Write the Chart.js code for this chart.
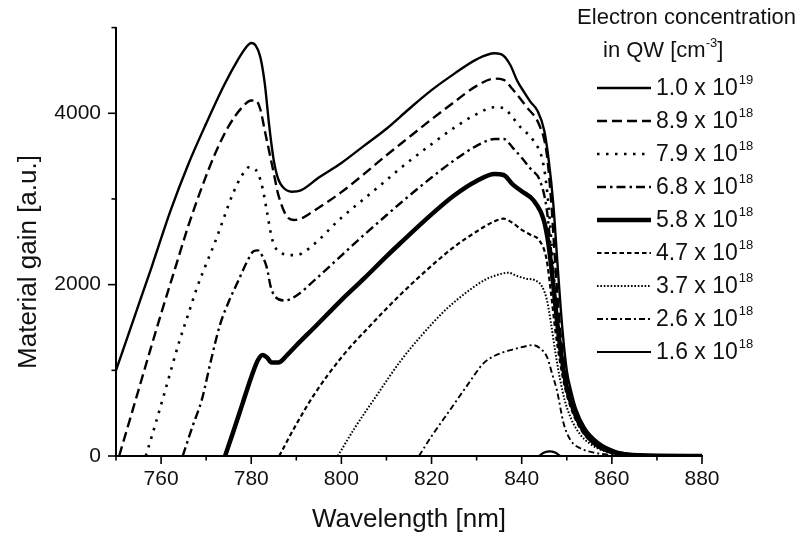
<!DOCTYPE html>
<html>
<head>
<meta charset="utf-8">
<script src="https://cdn.jsdelivr.net/npm/chart.js@4"></script>
<style>
  html, body { margin: 0; padding: 0; background: #fff; }
  #wrap { width: 797px; height: 536px; }
</style>
</head>
<body>
<div id="wrap"><canvas id="gainChart" width="797" height="536"></canvas></div>
<script>
// wavelength [nm] / material gain [a.u.] per electron concentration
const wl1 = [750, 754, 758, 762, 766, 770, 774, 777, 779, 780, 781, 782, 783, 784, 785, 786, 787, 789, 791, 795, 800, 805, 810, 815, 820, 825, 830, 834, 836, 837.5, 839, 840.5, 842, 843.5, 845, 846, 847, 848, 849, 850, 851, 852, 854, 857, 861, 866, 872, 880];
const g1 = [1000, 1610, 2220, 2850, 3400, 3880, 4330, 4620, 4780, 4820, 4790, 4660, 4350, 3850, 3450, 3230, 3140, 3085, 3100, 3250, 3420, 3620, 3820, 4050, 4270, 4460, 4630, 4700, 4670, 4560, 4380, 4250, 4130, 4030, 3800, 3450, 2950, 2200, 1500, 1000, 750, 560, 330, 160, 55, 15, 3, 0];

const wl2 = [750.7, 754, 757, 760, 763, 766, 769, 772, 775, 778, 780, 781, 782, 783, 784, 785, 786, 788, 789.5, 791, 793, 800, 805, 810, 815, 820, 825, 830, 834, 836, 838, 841, 844, 845.5, 846.5, 847.5, 848.5, 849.5, 851, 853, 855, 857, 860, 865, 872, 880];
const g2 = [0, 590, 1130, 1660, 2170, 2680, 3130, 3530, 3850, 4070, 4150, 4150, 4050, 3800, 3550, 3300, 3050, 2790, 2755, 2770, 2830, 3080, 3290, 3510, 3720, 3930, 4130, 4320, 4405, 4390, 4280, 4080, 3850, 3550, 3000, 2200, 1500, 1050, 700, 410, 240, 140, 60, 15, 3, 0];

const wl3 = [756.6, 758, 761, 764, 766, 768, 770, 772, 774, 776, 778, 779.5, 780.5, 781.5, 782.5, 783.5, 784.5, 785.5, 787, 789, 790.5, 793, 800, 805, 810, 813, 820, 825, 830, 834, 836, 838, 840, 842.5, 844.9, 846, 847, 848, 849, 850, 852, 854, 856, 859, 863, 870, 880];
const g3 = [0, 240, 780, 1330, 1650, 1970, 2240, 2500, 2790, 3070, 3280, 3370, 3360, 3300, 3130, 2850, 2560, 2420, 2360, 2345, 2350, 2430, 2780, 3000, 3220, 3355, 3640, 3830, 3990, 4070, 4060, 3950, 3820, 3690, 3380, 2900, 2200, 1550, 1080, 760, 450, 260, 150, 70, 20, 3, 0];

const wl4 = [764.8, 767, 769, 771, 773, 775, 777, 779, 780.5, 781.5, 782.5, 783.5, 784.3, 785.3, 787.5, 790, 794, 800, 805, 810, 813, 820, 825, 830, 834, 836, 838, 840, 842, 844, 845.5, 846.5, 847.5, 848.5, 849.5, 851, 853, 855, 857, 860, 865, 872, 880];
const g4 = [0, 350, 650, 1100, 1520, 1800, 2030, 2260, 2390, 2400, 2330, 2190, 1980, 1860, 1815, 1870, 2050, 2340, 2580, 2810, 2947, 3250, 3450, 3620, 3700, 3700, 3600, 3480, 3350, 3220, 2900, 2400, 1800, 1300, 950, 620, 360, 210, 120, 50, 12, 2, 0];

const wl5 = [774.2, 776, 778, 780, 781.5, 782.5, 783.5, 784.5, 786, 788, 790, 794, 800, 805, 810, 813, 820, 825, 830, 834, 836, 838, 840, 842.6, 844.9, 846, 847, 848, 849, 850, 852, 854, 856, 858, 861, 866, 880];
const g5 = [0, 280, 600, 920, 1120, 1180, 1150, 1090, 1090, 1180, 1290, 1500, 1820, 2070, 2330, 2480, 2820, 3040, 3210, 3290, 3280, 3170, 3090, 2985, 2752, 2450, 2000, 1500, 1100, 800, 470, 270, 155, 85, 35, 8, 0];

const wl6 = [786.2, 790, 794, 800, 806, 813, 820, 825, 830, 834, 836, 838, 840, 842, 844, 845.5, 846.5, 847.5, 848.5, 849.5, 851, 853, 855, 857, 860, 865, 880];
const g6 = [0, 370, 720, 1150, 1500, 1878, 2220, 2440, 2620, 2740, 2770, 2720, 2640, 2580, 2510, 2300, 1900, 1450, 1100, 820, 550, 320, 190, 110, 45, 10, 0];

const wl7 = [799.2, 803, 808, 813, 818, 823, 828, 832, 835, 837, 839, 841, 843, 844.5, 845.6, 846.5, 847.5, 848.5, 849.5, 851, 853, 855, 857, 860, 865, 880];
const g7 = [0, 330, 720, 1100, 1420, 1700, 1920, 2060, 2120, 2140, 2100, 2070, 2050, 1980, 1819, 1550, 1200, 900, 660, 430, 250, 150, 85, 35, 8, 0];

const wl8 = [817.2, 820, 824, 828, 831.5, 834, 837.5, 840, 842.5, 844, 845.6, 846.8, 847.8, 849.3, 850.8, 853, 856, 860, 866];
const g8 = [0, 230, 530, 830, 1081, 1170, 1236, 1270, 1295, 1260, 1158, 950, 770, 381, 187, 90, 40, 12, 0];

const wl9 = [843.8, 845, 846.2, 847.4, 848.6];
const g9 = [0, 40, 55, 40, 0];

const concMantissa = ["1.0", "8.9", "7.9", "6.8", "5.8", "4.7", "3.7", "2.6", "1.6"];
const concExponent = ["19", "18", "18", "18", "18", "18", "18", "18", "18"];

const xTickStep = 10;
const yTickStep = 1000;

const seriesWl = [wl1, wl2, wl3, wl4, wl5, wl6, wl7, wl8, wl9];
const seriesGain = [g1, g2, g3, g4, g5, g6, g7, g8, g9];

// line look per series (same order as above)
const styles = [
  { width: 2.4, dash: [] },
  { width: 2.4, dash: [10, 5] },
  { width: 2.6, dash: [2.5, 6.5] },
  { width: 2.4, dash: [9, 4, 2.5, 4] },
  { width: 4.5, dash: [] },
  { width: 2.2, dash: [4.5, 3] },
  { width: 2, dash: [1.6, 1.8] },
  { width: 1.9, dash: [6, 3, 2, 3] },
  { width: 2.2, dash: [] },
];

const FONT = 'Arial, "Liberation Sans", Helvetica, sans-serif';

const datasets = seriesWl.map((wl, i) => ({
  label: concMantissa[i] + " x 10^" + concExponent[i],
  data: wl.map((x, k) => ({ x, y: seriesGain[i][k] })),
  borderColor: "#000",
  borderWidth: styles[i].width,
  borderDash: styles[i].dash,
  pointRadius: 0,
  fill: false,
  cubicInterpolationMode: "monotone",
}));

const decor = {
  id: "decor",
  afterDraw(chart) {
    const { ctx, chartArea } = chart;
    const xs = chart.scales.x;
    const ys = chart.scales.y;
    ctx.save();
    ctx.strokeStyle = "#000";
    ctx.lineWidth = 1.6;
    ctx.setLineDash([]);

    // tick marks, longer on labelled ones
    xs.ticks.forEach((t) => {
      const px = xs.getPixelForValue(t.value);
      const len = t.value % 20 === 0 ? 8 : 4.5;
      ctx.beginPath();
      ctx.moveTo(px, chartArea.bottom);
      ctx.lineTo(px, chartArea.bottom + len);
      ctx.stroke();
    });
    ys.ticks.forEach((t) => {
      const py = ys.getPixelForValue(t.value);
      const len = t.value % 2000 === 0 ? 8 : 4.5;
      ctx.beginPath();
      ctx.moveTo(chartArea.left, py);
      ctx.lineTo(chartArea.left - len, py);
      ctx.stroke();
    });

    // axis titles
    ctx.fillStyle = "#111";
    ctx.font = "26px " + FONT;
    ctx.textAlign = "center";
    ctx.textBaseline = "middle";
    ctx.fillText("Wavelength [nm]", (chartArea.left + chartArea.right) / 2, 520);
    ctx.save();
    ctx.translate(29, 262);
    ctx.rotate(-Math.PI / 2);
    ctx.fillText("Material gain [a.u.]", 0, 0);
    ctx.restore();

    // legend
    ctx.font = "22px " + FONT;
    ctx.textAlign = "right";
    ctx.fillText("Electron concentration", 796, 18);
    ctx.textAlign = "left";
    let tx = 603;
    ctx.fillText("in QW [cm", tx, 51);
    tx += ctx.measureText("in QW [cm").width;
    ctx.font = "13px " + FONT;
    ctx.fillText("-3", tx, 43);
    tx += ctx.measureText("-3").width;
    ctx.font = "22px " + FONT;
    ctx.fillText("]", tx, 51);

    datasets.forEach((ds, i) => {
      const y = 88 + 33 * i;
      ctx.lineWidth = ds.borderWidth;
      ctx.setLineDash(ds.borderDash);
      ctx.beginPath();
      ctx.moveTo(597, y);
      ctx.lineTo(651, y);
      ctx.stroke();
      ctx.setLineDash([]);
      ctx.font = "23px " + FONT;
      const main = concMantissa[i] + " x 10";
      ctx.fillText(main, 656, y + 1);
      const w = ctx.measureText(main).width;
      ctx.font = "13px " + FONT;
      ctx.fillText(concExponent[i], 656 + w + 1, y - 8);
    });
    ctx.restore();
  },
};

new Chart(document.getElementById("gainChart"), {
  type: "line",
  data: { datasets },
  options: {
    responsive: false,
    animation: false,
    events: [],
    layout: { padding: { top: 27, right: 95, left: 0, bottom: 0 } },
    plugins: { legend: { display: false }, tooltip: { enabled: false } },
    scales: {
      x: {
        type: "linear",
        min: 750,
        max: 880,
        afterFit: (s) => { s.height = 80; },
        grid: { display: false, drawTicks: false },
        border: { display: true, color: "#000", width: 2 },
        ticks: {
          stepSize: xTickStep,
          autoSkip: false,
          maxRotation: 0,
          padding: 11,
          color: "#111",
          font: { family: FONT, size: 21 },
          callback: (v) => (v % 20 === 0 && v > 750 ? String(v) : ""),
        },
      },
      y: {
        type: "linear",
        min: 0,
        max: 5000,
        afterFit: (s) => { s.width = 116; },
        grid: { display: false, drawTicks: false },
        border: { display: true, color: "#000", width: 2 },
        ticks: {
          stepSize: yTickStep,
          autoSkip: false,
          padding: 15,
          color: "#111",
          font: { family: FONT, size: 21 },
          callback: (v) => (v % 2000 === 0 ? String(v) : ""),
        },
      },
    },
  },
  plugins: [decor],
});
</script>
</body>
</html>
